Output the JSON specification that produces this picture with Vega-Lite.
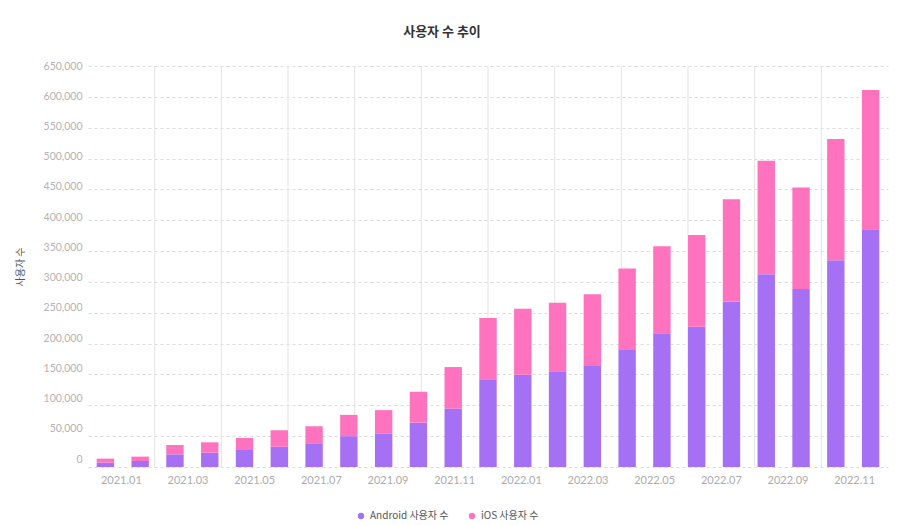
{
  "$schema": "https://vega.github.io/schema/vega-lite/v6.json",
  "width": 800,
  "height": 401,
  "autosize": {"type": "none"},
  "padding": {"left": 88, "top": 66, "right": 12, "bottom": 58},
  "background": "white",
  "title": {
    "text": "사용자 수 추이",
    "font": "Noto Sans CJK KR",
    "fontSize": 13,
    "fontWeight": "bold",
    "color": "#333333",
    "anchor": "middle",
    "frame": "group",
    "dx": -46,
    "offset": 22
  },
  "datasets": {
    "groups": [
      {"label": "2021.01"}, {"label": "2021.03"}, {"label": "2021.05"},
      {"label": "2021.07"}, {"label": "2021.09"}, {"label": "2021.11"},
      {"label": "2022.01"}, {"label": "2022.03"}, {"label": "2022.05"},
      {"label": "2022.07"}, {"label": "2022.09"}, {"label": "2022.11"}
    ],
    "users": [
      {"month": "2021.01", "series": "Android 사용자 수", "users": 7100},
      {"month": "2021.01", "series": "iOS 사용자 수", "users": 6500},
      {"month": "2021.02", "series": "Android 사용자 수", "users": 9700},
      {"month": "2021.02", "series": "iOS 사용자 수", "users": 7100},
      {"month": "2021.03", "series": "Android 사용자 수", "users": 20600},
      {"month": "2021.03", "series": "iOS 사용자 수", "users": 15100},
      {"month": "2021.04", "series": "Android 사용자 수", "users": 23300},
      {"month": "2021.04", "series": "iOS 사용자 수", "users": 16700},
      {"month": "2021.05", "series": "Android 사용자 수", "users": 27600},
      {"month": "2021.05", "series": "iOS 사용자 수", "users": 19400},
      {"month": "2021.06", "series": "Android 사용자 수", "users": 33000},
      {"month": "2021.06", "series": "iOS 사용자 수", "users": 26500},
      {"month": "2021.07", "series": "Android 사용자 수", "users": 38600},
      {"month": "2021.07", "series": "iOS 사용자 수", "users": 27600},
      {"month": "2021.08", "series": "Android 사용자 수", "users": 50000},
      {"month": "2021.08", "series": "iOS 사용자 수", "users": 34500},
      {"month": "2021.09", "series": "Android 사용자 수", "users": 53700},
      {"month": "2021.09", "series": "iOS 사용자 수", "users": 38500},
      {"month": "2021.10", "series": "Android 사용자 수", "users": 72000},
      {"month": "2021.10", "series": "iOS 사용자 수", "users": 50000},
      {"month": "2021.11", "series": "Android 사용자 수", "users": 94700},
      {"month": "2021.11", "series": "iOS 사용자 수", "users": 67300},
      {"month": "2021.12", "series": "Android 사용자 수", "users": 141000},
      {"month": "2021.12", "series": "iOS 사용자 수", "users": 100500},
      {"month": "2022.01", "series": "Android 사용자 수", "users": 149700},
      {"month": "2022.01", "series": "iOS 사용자 수", "users": 107000},
      {"month": "2022.02", "series": "Android 사용자 수", "users": 155100},
      {"month": "2022.02", "series": "iOS 사용자 수", "users": 111300},
      {"month": "2022.03", "series": "Android 사용자 수", "users": 163700},
      {"month": "2022.03", "series": "iOS 사용자 수", "users": 116200},
      {"month": "2022.04", "series": "Android 사용자 수", "users": 189700},
      {"month": "2022.04", "series": "iOS 사용자 수", "users": 131900},
      {"month": "2022.05", "series": "Android 사용자 수", "users": 216700},
      {"month": "2022.05", "series": "iOS 사용자 수", "users": 141100},
      {"month": "2022.06", "series": "Android 사용자 수", "users": 227500},
      {"month": "2022.06", "series": "iOS 사용자 수", "users": 148600},
      {"month": "2022.07", "series": "Android 사용자 수", "users": 268100},
      {"month": "2022.07", "series": "iOS 사용자 수", "users": 165900},
      {"month": "2022.08", "series": "Android 사용자 수", "users": 312400},
      {"month": "2022.08", "series": "iOS 사용자 수", "users": 184200},
      {"month": "2022.09", "series": "Android 사용자 수", "users": 288600},
      {"month": "2022.09", "series": "iOS 사용자 수", "users": 164300},
      {"month": "2022.10", "series": "Android 사용자 수", "users": 335100},
      {"month": "2022.10", "series": "iOS 사용자 수", "users": 196600},
      {"month": "2022.11", "series": "Android 사용자 수", "users": 385300},
      {"month": "2022.11", "series": "iOS 사용자 수", "users": 225800}
    ]
  },
  "layer": [
    {
      "data": {"name": "groups"},
      "mark": {"type": "rule", "color": "#e3e3e3", "strokeWidth": 1},
      "encoding": {
        "x": {
          "field": "label",
          "type": "ordinal",
          "bandPosition": 0,
          "scale": {"type": "band", "paddingInner": 0, "paddingOuter": 0},
          "axis": {
            "title": null,
            "grid": false,
            "ticks": false,
            "domain": false,
            "labelAngle": 0,
            "labelFont": "Lato",
            "labelFontSize": 11,
            "labelColor": "#acacac",
            "labelPadding": 7
          }
        },
        "opacity": {
          "condition": {"test": "datum.label === '2021.01'", "value": 0},
          "value": 1
        }
      }
    },
    {
      "data": {"name": "users"},
      "mark": {"type": "bar"},
      "encoding": {
        "x": {
          "field": "month",
          "type": "ordinal",
          "scale": {"paddingInner": 0.5, "paddingOuter": 0.25},
          "axis": null
        },
        "y": {
          "field": "users",
          "type": "quantitative",
          "stack": "zero",
          "scale": {"domain": [0, 650000], "nice": false},
          "axis": {
            "title": "사용자 수",
            "titleFont": "Noto Sans CJK KR",
            "titleFontSize": 10,
            "titleFontWeight": "normal",
            "titleColor": "#555555",
            "titlePadding": 18,
            "values": [0, 50000, 100000, 150000, 200000, 250000, 300000, 350000, 400000, 450000, 500000, 550000, 600000, 650000],
            "format": ",d",
            "labelFont": "Lato",
            "labelFontSize": 10.5,
            "labelColor": "#b3b3b3",
            "labelPadding": 6,
            "labelOffset": {"expr": "(datum.value - 650000) / 650000 * 8"},
            "ticks": false,
            "domain": false,
            "grid": true,
            "gridColor": "#dddddd",
            "gridDash": [3, 3]
          }
        },
        "color": {
          "field": "series",
          "type": "nominal",
          "scale": {
            "domain": ["Android 사용자 수", "iOS 사용자 수"],
            "range": ["#a670f5", "#ff72be"]
          },
          "legend": {
            "title": null,
            "orient": "none",
            "direction": "horizontal",
            "legendX": 268,
            "legendY": 445,
            "symbolType": "circle",
            "symbolSize": 40,
            "labelFont": "Noto Sans CJK KR",
            "labelFontSize": 10,
            "labelColor": "#555555",
            "columnPadding": 18
          }
        },
        "order": {"field": "series", "sort": "ascending"}
      }
    }
  ],
  "resolve": {"scale": {"x": "independent"}, "axis": {"x": "independent"}},
  "config": {"view": {"stroke": null}}
}
